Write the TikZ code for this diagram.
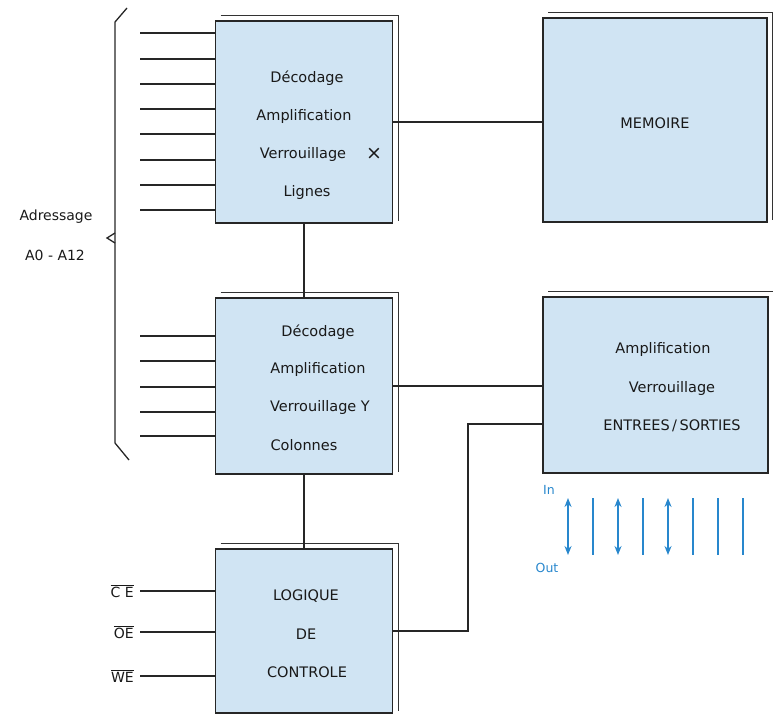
\documentclass[tikz,border=0pt]{standalone}
\usepackage{fontspec}
\setmainfont{DejaVu Sans}
\usetikzlibrary{arrows.meta}
\definecolor{boxfill}{RGB}{208,228,243}
\definecolor{arrblue}{RGB}{40,135,205}
\newcommand\ovl[1]{\ensuremath{\overline{\hbox{#1}}}}
\begin{document}
\begin{tikzpicture}[x=1pt,y=-1pt,
  blk/.style={draw=black!85,line width=1.8pt,fill=boxfill,inner sep=0pt},
  txt/.style={font=\fontsize{14.5}{16}\selectfont,text=black!90,inner sep=0pt,anchor=center},
  lbl/.style={font=\fontsize{14}{16}\selectfont,text=black!90,inner sep=0pt},
  wire/.style={line width=1.3pt,black!85},
  back/.style={line width=0.9pt,black!80},
  io/.style={line width=1.8pt,arrblue},
  iod/.style={line width=1.8pt,arrblue,{Stealth[length=9pt,width=7pt]}-{Stealth[length=9pt,width=7pt]}}]
\useasboundingbox (0,0) rectangle (773,715);
% boxes
\node[blk,minimum width=177pt,minimum height=202pt] (b1) at (304,122) {};
\node[blk,minimum width=177pt,minimum height=176pt] (b2) at (304,386) {};
\node[blk,minimum width=177pt,minimum height=164pt] (b3) at (304,631) {};
\node[blk,minimum width=224pt,minimum height=204pt] (mem) at (655,120) {};
\node[blk,minimum width=225pt,minimum height=176pt] (iob) at (655.5,385) {};
% back outlines
\foreach \b in {b1,b2,b3,mem,iob}{
  \draw[back] ([shift={(6pt,5pt)}]\b.north west) -- ([shift={(5pt,5pt)}]\b.north east) -- ([shift={(5pt,3pt)}]\b.south east);
}
% texts box 1
\node[txt] (t11) at (307,78) {Décodage};
\node[txt] (t12) at (304,116) {Amplification};
\node[txt] (t13) at (303,154) {Verrouillage};
\node[txt,font=\fontsize{19}{20}\selectfont] (t1x) at (374,154) {×};
\node[txt] (t14) at (307,192) {Lignes};
% texts box 2
\node[txt] (t21) at (318,332) {Décodage};
\node[txt] (t22) at (318,369) {Amplification};
\node[txt] (t23) at (320,407) {Verrouillage Y};
\node[txt] (t24) at (304,445) {Colonnes};
% texts box 3
\node[txt] (t31) at (306,596) {LOGIQUE};
\node[txt] (t32) at (306,634) {DE};
\node[txt] (t33) at (307,672) {CONTROLE};
% memory and io
\node[txt] (tm) at (655,123) {MEMOIRE};
\node[txt] (ti1) at (663,349) {Amplification};
\node[txt] (ti2) at (672,388) {Verrouillage};
\node[txt] (ti3) at (672,426) {ENTREES\,/\,SORTIES};
% address lines box1
\foreach \yy [count=\i] in {33,59,84,109,134,160,185,210}{
  \coordinate (a\i) at (140,\yy);
  \draw[wire] (a\i) -- (a\i -| b1.west);
}
\foreach \yy [count=\i] in {336,361,387,412,436}{
  \coordinate (c\i) at (140,\yy);
  \draw[wire] (c\i) -- (c\i -| b2.west);
}
% bracket
\coordinate (brt) at (115,22);
\coordinate (brb) at (115,443);
\coordinate (brtt) at (127,8);
\coordinate (brbb) at (129,460);
\draw[wire] (brtt) -- (brt) -- (brb) -- (brbb);
\coordinate (n1) at (115,233);
\coordinate (n2) at (107,238);
\coordinate (n3) at (115,243);
\draw[wire] (n1) -- (n2) -- (n3);
\node[lbl] (adr) at (56,217) {Adressage};
\node[lbl] (adr2) at (55,255) {A0 - A12};
% connectors
\draw[wire] (b1.east) -- (b1.east -| mem.west);
\draw[wire] (b2.east) -- (b2.east -| iob.west);
\draw[wire] (b1.south) -- (b2.north);
\draw[wire] (b2.south) -- (b3.north);
\coordinate (k) at (468,424);
\draw[wire] (b3.east) -| (k) -- (k -| iob.west);
% control inputs
\node[lbl,anchor=east] (ce) at (134,591) {\ovl{C E}};
\node[lbl,anchor=east] (oe) at (134,632) {\ovl{OE}};
\node[lbl,anchor=east] (we) at (134,676) {\ovl{WE}};
\draw[wire] (ce.east) ++(6pt,0) coordinate (ce1) -- (ce1 -| b3.west);
\draw[wire] (oe.east) ++(6pt,0) coordinate (oe1) -- (oe1 -| b3.west);
\draw[wire] (we.east) ++(6pt,0) coordinate (we1) -- (we1 -| b3.west);
% io arrows
\foreach \xx [count=\i] in {568,593,618,643,668,693,718,743}{
  \coordinate (u\i) at (\xx,498);
  \coordinate (d\i) at (\xx,555);
}
\foreach \i in {1,3,5}{ \draw[iod] (u\i) -- (d\i); }
\foreach \i in {2,4,6,7,8}{ \draw[io] (u\i) -- (d\i); }
\node[lbl,text=arrblue,font=\fontsize{12.5}{14}\selectfont] (in) at (549,490) {In};
\node[lbl,text=arrblue,font=\fontsize{12.5}{14}\selectfont] (out) at (547,568) {Out};
\end{tikzpicture}
\end{document}
